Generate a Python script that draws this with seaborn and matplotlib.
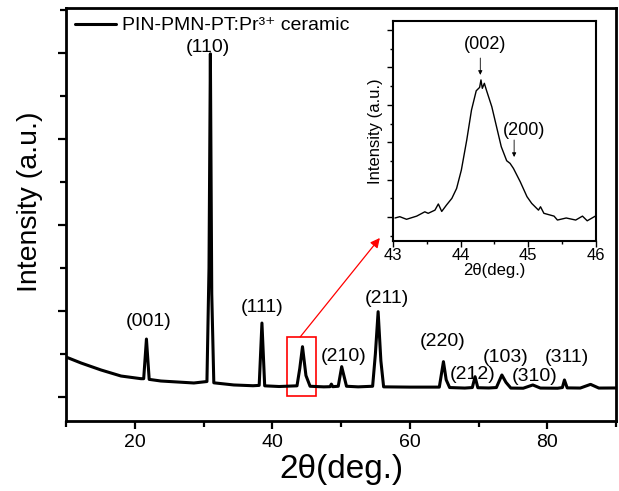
import matplotlib
matplotlib.use("Agg")
import matplotlib.pyplot as plt
import seaborn as sns
import pandas as pd
from matplotlib.ticker import MultipleLocator, NullFormatter

# main XRD pattern
two_theta = [10.0, 12.2, 15.1, 18.0, 20.9, 21.3, 21.7, 22.1, 23.8, 28.6, 30.5, 30.8, 31.0, 31.2, 31.5,
             34.4, 37.2, 38.1, 38.5, 38.9, 41.0, 43.6, 44.0, 44.4, 44.9, 45.5, 47.5, 48.4, 48.6, 48.8,
             49.6, 50.1, 50.8, 52.5, 54.6, 55.0, 55.4, 55.8, 56.2, 60.0, 64.3, 64.9, 65.3, 65.8, 68.0,
             69.1, 69.5, 69.9, 71.5, 72.6, 73.4, 74.0, 74.7, 76.5, 77.9, 79.0, 81.5, 82.2, 82.5, 82.9,
             84.8, 86.3, 87.5, 90.0]
intensity = [465, 395, 314, 244, 213, 213, 674, 205, 186, 163, 180, 1500, 3990, 1200, 165,
             140, 131, 135, 860, 130, 122, 130, 330, 585, 250, 125, 118, 120, 150, 120,
             125, 353, 125, 118, 125, 500, 992, 420, 118, 115, 115, 411, 200, 110, 104,
             110, 236, 108, 105, 110, 256, 170, 104, 102, 140, 104, 102, 110, 198, 106,
             104, 147, 104, 105]

peak_labels = ["(001)", "(110)", "(111)", "(210)", "(211)", "(220)", "(212)", "(103)", "(310)", "(311)"]
label_x = [22.0, 30.65, 38.6, 50.4, 56.7, 64.8, 69.2, 73.9, 78.1, 82.9]
label_y = [876, 4058, 1035, 469, 1151, 643, 256, 461, 236, 461]

# zoomed (002)/(200) region
inset_theta = [43.03, 43.10, 43.20, 43.35, 43.47, 43.52, 43.62, 43.67, 43.72, 43.79, 43.87, 43.94,
               44.01, 44.09, 44.16, 44.23, 44.28, 44.30, 44.32, 44.35, 44.38, 44.46, 44.53, 44.60,
               44.68, 44.73, 44.78, 44.88, 44.98, 45.05, 45.15, 45.18, 45.23, 45.38, 45.43, 45.56,
               45.70, 45.80, 45.87, 45.99]
inset_int = [-5, 2, -12, 5, 28, 20, 37, 70, 30, 64, 100, 153,
             251, 412, 572, 675, 693, 733, 688, 715, 679, 590, 483, 376,
             301, 287, 260, 189, 109, 73, 37, 55, 20, 5, -16, -5,
             -16, 5, -20, 5]

sns.set_style("ticks")
plt.rcParams['font.family'] = ['Liberation Sans', 'DejaVu Sans']
for k in ['text.color', 'axes.labelcolor', 'xtick.color', 'ytick.color', 'axes.edgecolor']:
    plt.rcParams[k] = 'black'

df = pd.DataFrame({"x": two_theta, "y": intensity})
df_in = pd.DataFrame({"x": inset_theta, "y": inset_int})

fig = plt.figure(figsize=(6.19, 4.91), dpi=100)
ax = fig.add_axes([66 / 619, 70 / 491, 550 / 619, 413 / 491])
sns.lineplot(data=df, x="x", y="y", ax=ax, color="black", linewidth=2.2,
             sort=False, estimator=None, label="PIN-PMN-PT:Pr³⁺ ceramic")

ax.set_xlim(10, 90)
ax.set_ylim(-279, 4523)
ax.xaxis.set_major_locator(MultipleLocator(20))
ax.xaxis.set_minor_locator(MultipleLocator(10))
ax.yaxis.set_major_locator(MultipleLocator(1000))
ax.yaxis.set_minor_locator(MultipleLocator(500))
ax.yaxis.set_major_formatter(NullFormatter())
ax.tick_params(which="both", direction="out", width=1.6, labelsize=14)
ax.tick_params(which="major", length=6)
ax.tick_params(which="minor", length=4)
for s in ax.spines.values():
    s.set_linewidth(2)
ax.set_xlabel("2θ(deg.)", fontsize=24, labelpad=2)
ax.set_ylabel("Intensity (a.u.)", fontsize=20.5)
ax.yaxis.set_label_coords(-0.042, 0.53)

for t, lx, ly in zip(peak_labels, label_x, label_y):
    ax.text(lx, ly, t, fontsize=14, ha="center", va="center")

ax.legend(loc="upper left", frameon=False, fontsize=14, handlelength=2.1,
          borderaxespad=0.15, borderpad=0.3, handletextpad=0.35)

# red box and arrow to the inset
ax.add_patch(plt.Rectangle((42.2, 12), 4.2, 686, fill=False, edgecolor="red", linewidth=1.2))
ax.annotate("", xy=(55.65, 1849), xytext=(44.06, 698),
            arrowprops=dict(arrowstyle="-|>", color="red", lw=0.9, mutation_scale=14,
                            shrinkA=0, shrinkB=0))

ins = fig.add_axes([393 / 619, 250 / 491, 203 / 619, 220 / 491])
sns.lineplot(data=df_in, x="x", y="y", ax=ins, color="black", linewidth=1,
             sort=False, estimator=None)
ins.set_xlim(43, 46)
ins.set_ylim(-128, 1048)
ins.xaxis.set_major_locator(MultipleLocator(1))
ins.xaxis.set_minor_locator(MultipleLocator(0.5))
ins.yaxis.set_major_locator(MultipleLocator(200))
ins.yaxis.set_minor_locator(MultipleLocator(100))
ins.yaxis.set_major_formatter(NullFormatter())
ins.tick_params(which="both", direction="out", width=1, labelsize=12, pad=1)
ins.tick_params(which="major", length=4)
ins.tick_params(which="minor", length=2.5)
for s in ins.spines.values():
    s.set_linewidth(1.5)
ins.set_xlabel("2θ(deg.)", fontsize=12, labelpad=0)
ins.set_ylabel("Intensity (a.u.)", fontsize=12, labelpad=2)

ins.text(44.36, 920, "(002)", fontsize=13, ha="center", va="center")
ins.annotate("", xy=(44.29, 760), xytext=(44.29, 850),
             arrowprops=dict(arrowstyle="-|>", color="black", lw=0.6, mutation_scale=6,
                             shrinkA=0, shrinkB=0))
ins.text(44.93, 465, "(200)", fontsize=13, ha="center", va="center")
ins.annotate("", xy=(44.79, 321), xytext=(44.79, 412),
             arrowprops=dict(arrowstyle="-|>", color="black", lw=0.6, mutation_scale=6,
                             shrinkA=0, shrinkB=0))

fig.savefig("out.png", dpi=100)
